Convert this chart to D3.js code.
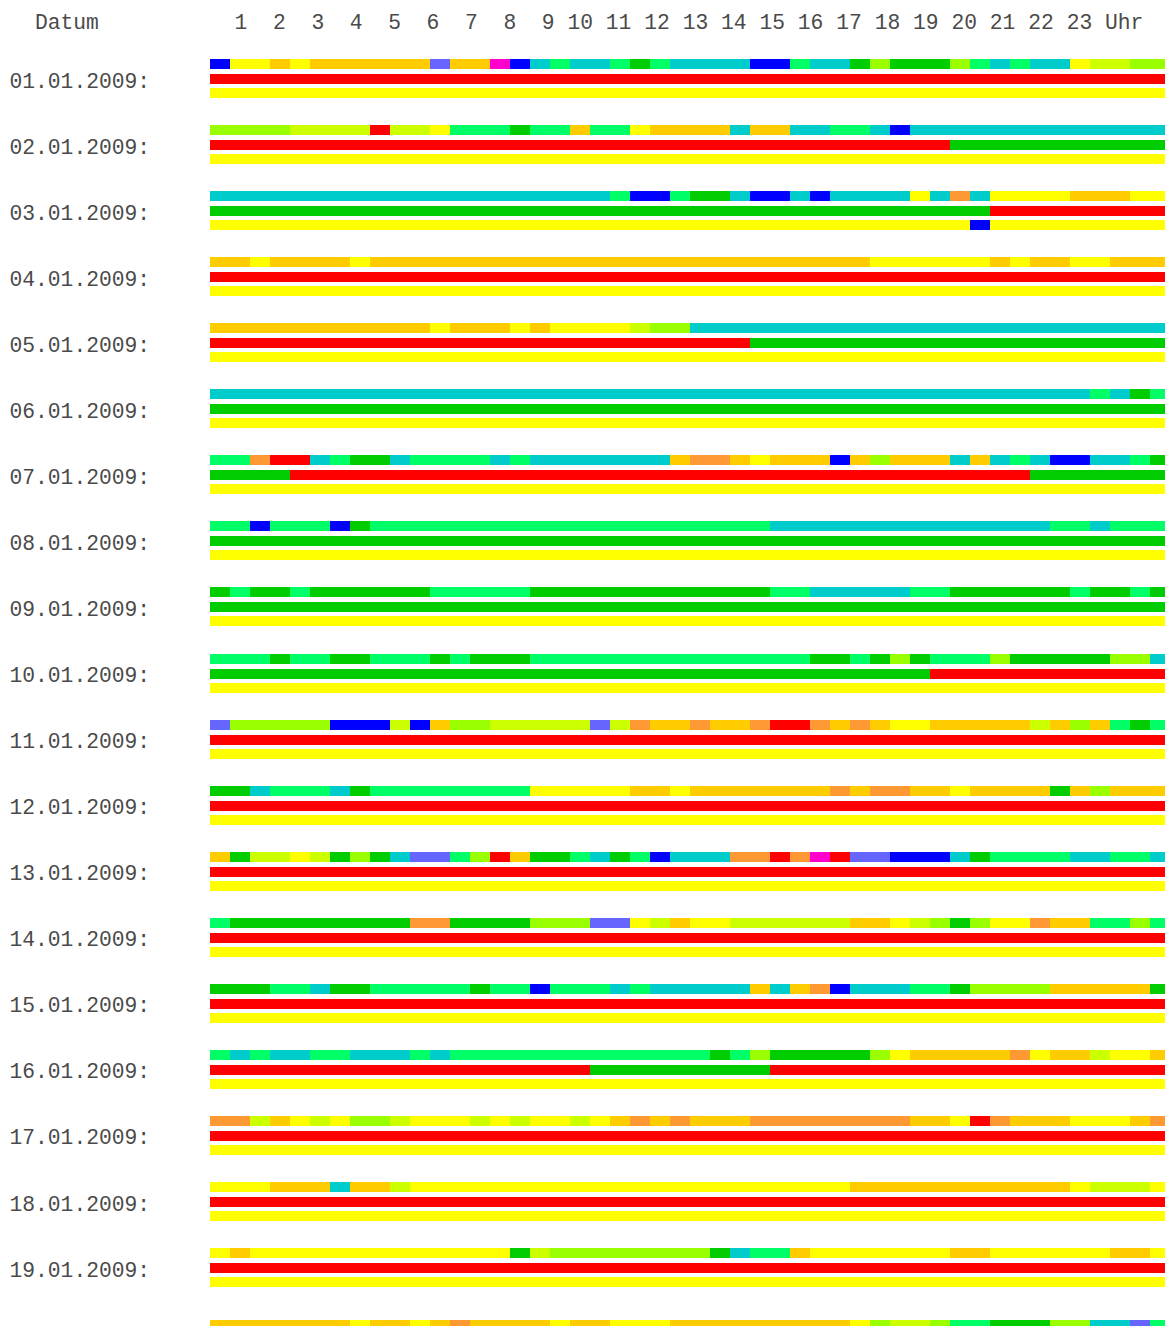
<!DOCTYPE html>
<html>
<head>
<meta charset="utf-8">
<script src="https://cdn.jsdelivr.net/npm/d3@7"></script>
<style>
  body { margin: 0; background: #fff; overflow: hidden; }
</style>
</head>
<body>
<div id="chart"></div>
<script>
// one row per day
let dates = ["01.01.2009", "02.01.2009", "03.01.2009", "04.01.2009", "05.01.2009",
  "06.01.2009", "07.01.2009", "08.01.2009", "09.01.2009", "10.01.2009",
  "11.01.2009", "12.01.2009", "13.01.2009", "14.01.2009", "15.01.2009",
  "16.01.2009", "17.01.2009", "18.01.2009", "19.01.2009", "20.01.2009"];

let hourLabels = ["1", "2", "3", "4", "5", "6", "7", "8", "9", "10", "11", "12",
  "13", "14", "15", "16", "17", "18", "19", "20", "21", "22", "23"];

// category code -> colour
let codes = ["B", "P", "M", "C", "S", "G", "L", "K", "Y", "O", "A", "R"];
let colours = ["#0000ff", "#6666ff", "#ff00cc", "#00cccc", "#00ff66", "#00cc00",
  "#99ff00", "#ccff00", "#ffff00", "#ffcc00", "#ff9933", "#ff0000"];

// top bar: one code per half hour (48 per day)
let halfHours = [
  "BYYOYOOOOOOPOOMBCSCCSGSCCCCBBSCCGLGGGLSCSCCYKKLL",
  "LLLLKKKKRKKYSSSGSSOSSYOOOOCOOCCSSCBCCCCCCCCCCCCC",
  "CCCCCCCCCCCCCCCCCCCCSBBSGGCBBCBCCCCYCACYYYYOOOYY",
  "OOYOOOOYOOOOOOOOOOOOOOOOOOOOOOOOOYYYYYYOYOOYYOOO",
  "OOOOOOOOOOOYOOOYOYYYYKLLCCCCCCCCCCCCCCCCCCCCCCCC",
  "CCCCCCCCCCCCCCCCCCCCCCCCCCCCCCCCCCCCCCCCCCCCSCGS",
  "SSARRCSGGCSSSSCSCCCCCCCOAAOYOOOBOLOOOCOCSCBBCCSG",
  "SSBSSSBGSSSSSSSSSSSSSSSSSSSSCCCCCCCCCCCCCCSSCSSS",
  "GSGGSGGGGGGSSSSSGGGGGGGGGGGGSSCCCCCSSGGGGGGSGGSG",
  "SSSGSSGGSSSGSGGGSSSSSSSSSSSSSSGGSGLGSSSLGGGGGLLC",
  "PLLLLLBBBKBOLLKKKKKPKAOOAOOARRAOAOYYOOOOOKOLOSGS",
  "GGCSSSCGSSSSSSSSYYYYYOOYOOOOOOOAOAAOOYOOOOGOLOOO",
  "OGKKYKGLGCPPSLROGGSCGSBCCCAARAMRPPBBBCGSSSSCCSSC",
  "SGGGGGGGGGAAGGGGLLLPPYKOYYKKKKKKOOYKLGLYYAOOSSLS",
  "GGGSSCGGSSSSSGSSBSSSCSCCCCCOCOABCCCSSGLLLLOOOOOG",
  "SCSCCSSCCCSCSSSSSSSSSSSSSGSLGGGGGLYOOOOOAYOOKYYO",
  "AAKOYKYLLKYYYKYKYYKYOAOAOOOAAAAAAAAOOYRAOOOYYYOA",
  "YYYOOOCOOKYYYYYYYYYYYYYYYYYYYYYYOOOOOOOOOOOYKKKY",
  "YOYYYYYYYYYYYYYGKLLLLLLLLGCSSOYYYYYYYOOYYYYYYOOY",
  "OOOOOOOYOOYOAOOOOYOOYYYOOOOOOOOOYLKKLSSGGGLLCCPS"
];

// middle bar: [code, half hours] runs
let midRuns = [
  [["R", 48]], [["R", 37], ["G", 11]], [["G", 39], ["R", 9]], [["R", 48]],
  [["R", 27], ["G", 21]], [["G", 48]], [["G", 4], ["R", 37], ["G", 7]], [["G", 48]],
  [["G", 48]], [["G", 36], ["R", 12]], [["R", 48]], [["R", 48]],
  [["R", 48]], [["R", 48]], [["R", 48]], [["R", 19], ["G", 9], ["R", 20]],
  [["R", 48]], [["R", 48]], [["R", 48]], [["R", 48]]
];

// bottom bar runs
let lowRuns = [
  [["Y", 48]], [["Y", 48]], [["Y", 38], ["B", 1], ["Y", 9]], [["Y", 48]],
  [["Y", 48]], [["Y", 48]], [["Y", 48]], [["Y", 48]],
  [["Y", 48]], [["Y", 48]], [["Y", 48]], [["Y", 48]],
  [["Y", 48]], [["Y", 48]], [["Y", 48]], [["Y", 48]],
  [["Y", 48]], [["Y", 48]], [["Y", 48]], [["Y", 48]]
];

let width = 1165, height = 1326;

let svg = d3.select("#chart").append("svg")
  .attr("width", width)
  .attr("height", height)
  .style("display", "block");

let colour = d3.scaleOrdinal().domain(codes).range(colours);

// 20 px per half hour, the last slot runs off the page
let x = d3.scaleLinear().domain([0, 48]).range([210, 1170]);
let rowY = d3.scaleLinear().domain([0, 1]).range([59, 125.06]);
let hourX = d3.scaleLinear().domain([0, 1]).range([209, 247.4]);

// the last row sits a little lower in the original page
function rowTop(i) {
  return rowY(i) + (i === dates.length - 1 ? 6 : 0);
}

let font = "'Liberation Mono', 'DejaVu Sans Mono', monospace";
let textColour = "#4a4a4a";

// header line
let header = svg.append("g")
  .style("font-family", font)
  .style("font-size", "21.3px")
  .style("fill", textColour);

header.append("text")
  .attr("x", 35)
  .attr("y", 29)
  .text("Datum");

header.selectAll("text.hour")
  .data(hourLabels)
  .enter()
  .append("text")
    .attr("class", "hour")
    .attr("x", (d, i) => hourX(i + 1))
    .attr("y", 29)
    .attr("text-anchor", "end")
    .text(d => d);

header.append("text")
  .attr("x", hourX(23) + 12.8)
  .attr("y", 29)
  .text("Uhr");

// turn runs into segments with start offsets
function toSegments(runs) {
  let pos = 0;
  return runs.map(r => {
    let seg = {code: r[0], start: pos, len: r[1]};
    pos += r[1];
    return seg;
  });
}

function slotSegments(str) {
  return str.split("").map((c, i) => ({code: c, start: i, len: 1}));
}

let rows = svg.selectAll("g.day")
  .data(dates)
  .enter()
  .append("g")
    .attr("class", "day")
    .attr("transform", (d, i) => "translate(0," + rowTop(i) + ")");

rows.append("text")
  .attr("x", 9.5)
  .attr("y", 28.5)
  .style("font-family", font)
  .style("font-size", "21.3px")
  .style("fill", textColour)
  .text(d => d + ":");

let bands = [
  {offset: 0, data: i => slotSegments(halfHours[i])},
  {offset: 15, data: i => toSegments(midRuns[i])},
  {offset: 29, data: i => toSegments(lowRuns[i])}
];

bands.forEach(b => {
  rows.each(function(d, i) {
    d3.select(this).append("g")
      .selectAll("rect")
      .data(b.data(i))
      .enter()
      .append("rect")
        .attr("x", s => x(s.start))
        .attr("y", b.offset)
        .attr("width", s => x(s.start + s.len) - x(s.start))
        .attr("height", 10)
        .attr("fill", s => colour(s.code))
        .attr("shape-rendering", "crispEdges");
  });
});
</script>
</body>
</html>
